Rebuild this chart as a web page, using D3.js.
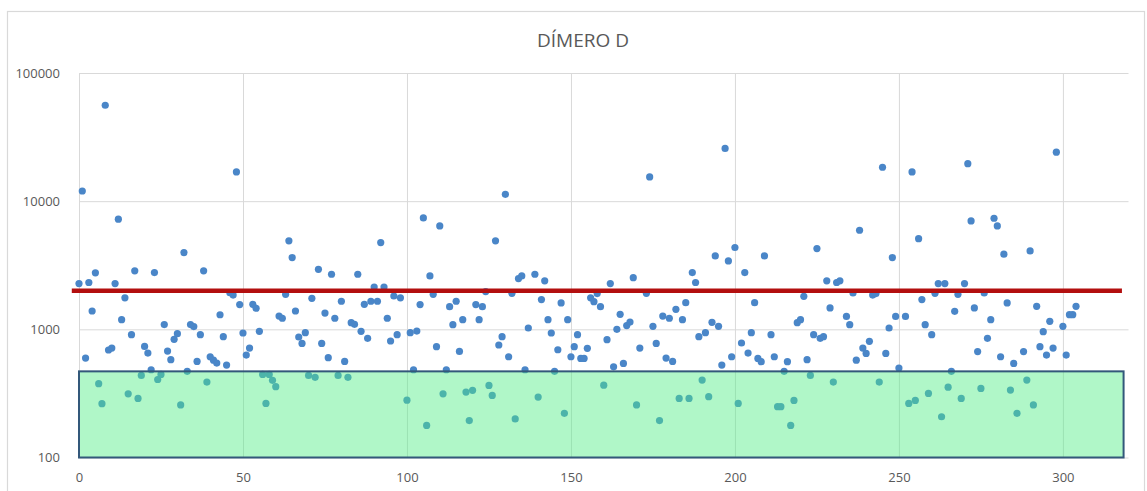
<!DOCTYPE html>
<html>
<head>
<meta charset="utf-8">
<script src="https://cdn.jsdelivr.net/npm/d3@7"></script>
<style>
  html, body { margin: 0; padding: 0; background: #ffffff; }
  svg { display: block; }
  text { font-family: "Open Sans", "Liberation Sans", sans-serif; fill: #595959; }
</style>
</head>
<body>
<svg id="chart" width="1147" height="491"></svg>
<script>
// D-dimer value per case, in case order (index 0 .. 304); null = no result
const dimeroD = [
  2275, 12000, 597, 2320, 1390, 2760, 377, 263, 56000, 690,
  714, 2275, 7230, 1190, 1760, 314, 908, 2860, 289, 437,
  736, 653, 484, 2770, 406, 445, 1090, 677, 580, 835,
  925, 257, 3970, 470, 1090, 1050, 562, 908, 2860, 388,
  611, 575, 545, 1300, 877, 526, 1930, 1850, 16900, 1560,
  936, 630, 714, 1567, 1460, 964, 445, 264, 445, 400,
  357, 1270, 1220, 1875, 4900, 3630, 1390, 871, 777, 942,
  437, 1745, 422, 2940, 777, 1340, 601, 2690, 1220, 437,
  1656, 562, 422, 1127, 1094, 2690, 964, 1567, 851, 1656,
  2140, 1656, 4750, 2140, 1220, 811, 1820, 908, 1760, null,
  280, 942, 484, 970, 1560, 7400, 178, 2610, 1875, 732,
  6410, 314, 484, 1503, 1088, 1656, 673, 1190, 324, 194,
  334, 1560, 1190, 1503, 1970, 365, 305, 4900, 755, 877,
  11300, 611, 1910, 200, 2490, 2610, 484, 1024, null, 2690,
  296, 1707, 2390, 1190, 936, 470, 693, 1607, 221, 1190,
  611, 732, 908, 593, 593, 711, 1760, 1645, 1900, 1503,
  367, 830, 2275, 510, 1000, 1310, 542, 1069, 1140, 2530,
  257, 714, null, 1910, 15460, 1055, 777, 194, 1270, 597,
  1220, 562, 1432, 289, 1190, 1615, 289, 2770, 2320, 877,
  402, 942, 298, 1135, 3740, 1055, 526, 25800, 3420, 611,
  4350, 264, 782, 2770, 653, 942, 1615, 593, 559, 3740,
  null, 908, 611, 249, 249, 470, 559, 178, 279, 1127,
  1190, 1810, 580, 437, 908, 4270, 851, 877, 2390, 1468,
  388, 2320, 2390, null, 1260, 1088, 1920, 575, 5930, 714,
  649, 806, 1850, 1900, 388, 18400, 649, 1024, 3630, 1260,
  499, null, 1260, 264, 16900, 279, 5100, 1707, 1088, 316,
  908, 1910, 2275, 208, 2275, 354, 470, 1382, 1875, 289,
  2275, 19600, 7010, 1468, 670, 346, 1920, 851, 1190, 7360,
  6410, 611, 3860, 1607, 336, 542, 221, null, 670, 402,
  4090, 257, 1513, 732, 959, 630, 1155, 714, 24100, null,
  1055, 630, 1302, 1302, 1513
];

// Axis ticks
const xTicks = [0, 50, 100, 150, 200, 250, 300];
const yTicks = [100, 1000, 10000, 100000];

// Cut-off line and reference band (ng/mL)
const cutoffValue = [2000];
const referenceBand = [100, 470];

const title = "DÍMERO D";

const svg = d3.select("#chart");

const x = d3.scaleLinear().domain([0, 320]).range([79, 1128.5]);
const y = d3.scaleLog().domain([100, 100000]).range([457.5, 73]);

// Outer chart frame
svg.append("rect")
  .attr("x", 7.5).attr("y", 11.5)
  .attr("width", 1137).attr("height", 500)
  .attr("fill", "#ffffff")
  .attr("stroke", "#d9d9d9").attr("stroke-width", 1.2);

// Title
svg.append("text")
  .attr("x", 583).attr("y", 47)
  .attr("text-anchor", "middle")
  .attr("font-size", 19)
  .text(title);

// Vertical gridlines
svg.append("g")
  .attr("transform", `translate(0,${y(100)})`)
  .call(d3.axisBottom(x).tickValues(xTicks).tickSize(-(y(100) - y(100000))).tickFormat(""))
  .call(g => g.select(".domain").remove())
  .call(g => g.selectAll("line").attr("stroke", "#d9d9d9").attr("stroke-width", 1));

// Horizontal gridlines
svg.append("g")
  .attr("transform", `translate(${x(0)},0)`)
  .call(d3.axisLeft(y).tickValues(yTicks).tickSize(-(x(320) - x(0))).tickFormat(""))
  .call(g => g.select(".domain").remove())
  .call(g => g.selectAll("line").attr("stroke", "#d9d9d9").attr("stroke-width", 1));

// Y tick labels
svg.append("g")
  .attr("transform", `translate(${x(0) - 16},0)`)
  .call(d3.axisLeft(y).tickValues(yTicks).tickSize(0).tickFormat(d3.format("d")))
  .call(g => g.select(".domain").remove())
  .call(g => g.selectAll("text")
    .attr("font-size", 13).attr("fill", "#595959")
    .attr("font-family", "'Open Sans', 'Liberation Sans', sans-serif"));

// X tick labels
svg.append("g")
  .attr("transform", `translate(0,${y(100) + 12})`)
  .call(d3.axisBottom(x).tickValues(xTicks).tickSize(0).tickFormat(d3.format("d")))
  .call(g => g.select(".domain").remove())
  .call(g => g.selectAll("text")
    .attr("font-size", 13).attr("fill", "#595959")
    .attr("font-family", "'Open Sans', 'Liberation Sans', sans-serif"));

// Scatter points
const points = dimeroD
  .map((v, i) => ({ i, v }))
  .filter(d => d.v !== null);

svg.append("g")
  .selectAll("circle")
  .data(points)
  .join("circle")
  .attr("cx", d => x(d.i))
  .attr("cy", d => y(d.v))
  .attr("r", 3.6)
  .attr("fill", "#4a86c8");

// Reference band (translucent, over the points)
svg.append("rect")
  .attr("x", x(0))
  .attr("y", y(referenceBand[1]))
  .attr("width", x(318.5) - x(0))
  .attr("height", y(referenceBand[0]) - y(referenceBand[1]))
  .attr("fill", "rgb(80,237,133)")
  .attr("fill-opacity", 0.45)
  .attr("stroke", "#33587a")
  .attr("stroke-width", 2);

// Cut-off line
svg.append("g")
  .selectAll("line")
  .data(cutoffValue)
  .join("line")
  .attr("x1", x(-2.2)).attr("x2", x(318))
  .attr("y1", d => y(d)).attr("y2", d => y(d))
  .attr("stroke", "#b30f0f")
  .attr("stroke-width", 4.5);
</script>
</body>
</html>
